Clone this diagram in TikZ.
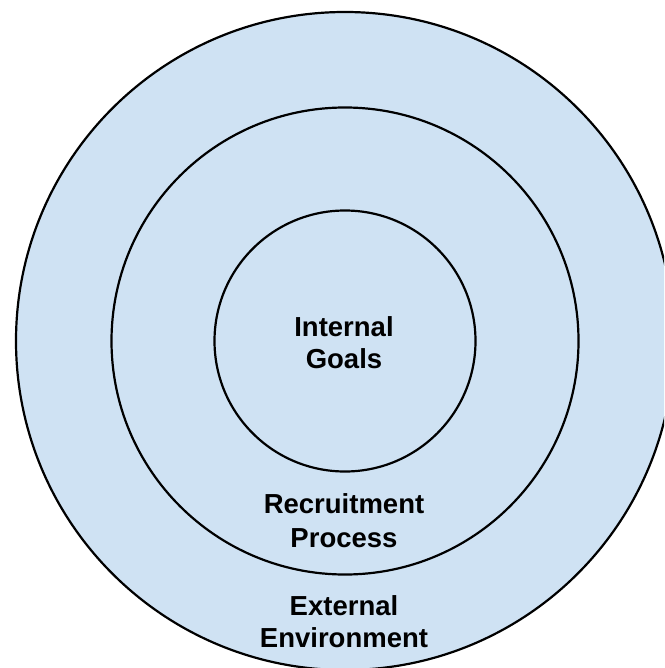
\documentclass[tikz,border=0pt]{standalone}
\usepackage{fontspec}
\setmainfont{Liberation Sans}
\definecolor{ringfill}{HTML}{CFE2F3}
\begin{document}
\begin{tikzpicture}[x=1pt,y=-1pt,
  ring/.style={draw=black,line width=2.2pt,fill=ringfill},
  lbl/.style={anchor=base,inner sep=0pt,font=\fontsize{27.5}{32}\selectfont\bfseries}]
\useasboundingbox (0,0) rectangle (664,668);
\clip (0,0) rectangle (664,668);
\coordinate (c) at (345,341);
\draw[ring] (c) circle[radius=329];
\draw[ring] (c) circle[radius=233.5];
\draw[ring] (c) circle[radius=130.5];
\node[lbl] (t1) at (344,336) {Internal};
\node[lbl] (t2) at (344,368) {Goals};
\node[lbl] (t3) at (344,513) {Recruitment};
\node[lbl] (t4) at (344,547) {Process};
\node[lbl] (t5) at (344,615) {External};
\node[lbl] (t6) at (344,647) {Environment};
\end{tikzpicture}
\end{document}
